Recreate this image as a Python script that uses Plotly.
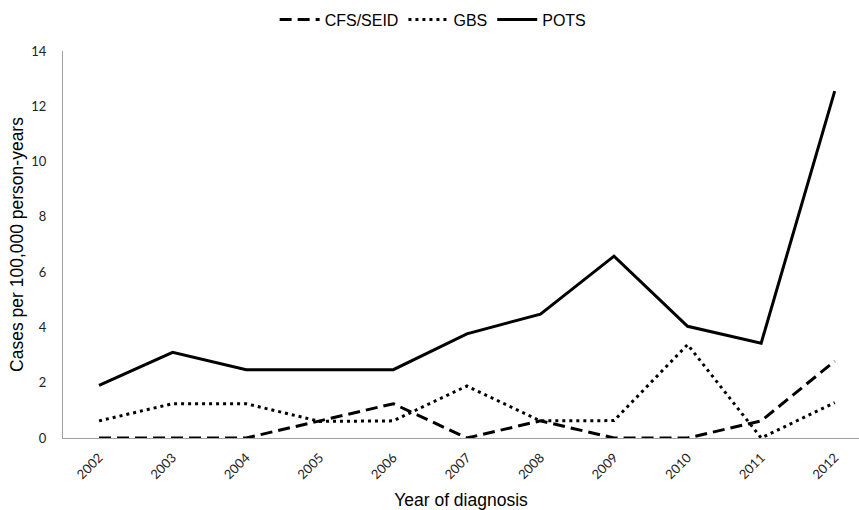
import plotly.graph_objects as go

years = [2002, 2003, 2004, 2005, 2006, 2007, 2008, 2009, 2010, 2011, 2012]
year_labels = [str(y) for y in years]
cfs = [0, 0, 0, 0.62, 1.24, 0, 0.62, 0, 0, 0.62, 2.78]
gbs = [0.62, 1.24, 1.24, 0.6, 0.62, 1.88, 0.62, 0.63, 3.38, 0, 1.28]
pots = [1.9, 3.1, 2.47, 2.46, 2.47, 3.77, 4.48, 6.58, 4.04, 3.43, 12.55]

fig = go.Figure()
fig.add_trace(go.Scatter(x=years, y=cfs, name="CFS/SEID", mode="lines",
                         line=dict(color="black", width=3, dash="12px,6px")))
fig.add_trace(go.Scatter(x=years, y=gbs, name="GBS", mode="lines",
                         line=dict(color="black", width=3, dash="3px,4px")))
fig.add_trace(go.Scatter(x=years, y=pots, name="POTS", mode="lines",
                         line=dict(color="black", width=3)))

fig.update_layout(
    width=859, height=510,
    margin=dict(l=63, r=0, t=51, b=72, autoexpand=False),
    plot_bgcolor="white", paper_bgcolor="white",
    font=dict(family="Liberation Sans, Arial", color="black"),
    showlegend=True,
    legend=dict(orientation="h", x=0.465, xanchor="center", y=0.995, yanchor="top",
                yref="container", font=dict(size=16, family="Liberation Sans, Arial"),
                itemwidth=40, traceorder="normal"),
)
fig.update_xaxes(
    range=[2001.51, 2012.33], tickvals=years, ticktext=year_labels,
    tickangle=-45, showgrid=False, zeroline=False,
    showline=True, linecolor="#a0a0a0", linewidth=1,
    tickfont=dict(family="Lato, Open Sans", size=13, color="#222"),
    title=dict(text="Year of diagnosis", font=dict(size=17.5), standoff=14),
    automargin=False, ticks="", ticklabelstandoff=6,
)
fig.update_yaxes(
    range=[0, 14], tickvals=[0, 2, 4, 6, 8, 10, 12, 14],
    showgrid=False, zeroline=False,
    showline=True, linecolor="#a0a0a0", linewidth=1,
    tickfont=dict(family="Lato, Open Sans", size=13, color="#222"),
    title=dict(text="Cases per 100,000 person-years", font=dict(size=17.5), standoff=3),
    automargin=False, ticks="", ticklabelstandoff=13,
)

fig.write_html("out.html")
